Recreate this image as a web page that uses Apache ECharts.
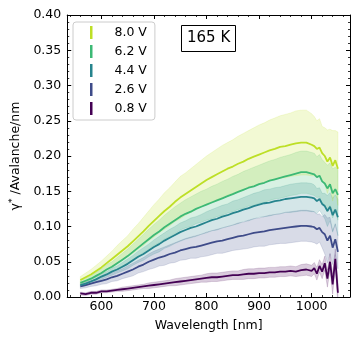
<!DOCTYPE html>
<html>
<head>
<meta charset="utf-8">
<script src="https://cdn.jsdelivr.net/npm/echarts@6/dist/echarts.min.js"></script>
<style>
html,body{margin:0;padding:0;background:#fff}
#chart{width:360px;height:344px}
</style>
</head>
<body>
<div id="chart"></div>
<script>
// wavelength grid (nm)
const wavelength = [560,570,580,590,600,610,620,630,640,650,660,670,680,690,700,710,720,730,740,750,
  760,770,780,790,800,810,820,830,840,850,860,870,880,890,900,910,920,930,940,950,960,970,980,990,1000,
  1005,1010,1015,1020,1025,1030,1035,1040,1045,1050];

const voltages = ['0.8 V','2.6 V','4.4 V','6.2 V','8.0 V'];
const colors = ['#440154','#3e4b89','#26848d','#3cb975','#bddf26'];

// mean gamma* per bias
const mean08 = [0.005,0.004,0.006,0.006,0.008,0.008,0.009,0.010,0.011,0.012,0.013,0.014,0.015,0.016,0.017,0.018,0.019,0.020,0.021,0.022,
  0.023,0.024,0.025,0.026,0.027,0.028,0.028,0.029,0.030,0.031,0.031,0.032,0.033,0.033,0.034,0.034,0.035,0.035,0.036,0.036,0.037,0.036,0.038,0.039,0.037,
  0.041,0.033,0.044,0.036,0.048,0.026,0.050,0.018,0.054,0.006];
const mean26 = [0.015,0.017,0.019,0.021,0.023,0.025,0.028,0.030,0.033,0.036,0.039,0.043,0.046,0.050,0.053,0.056,0.058,0.061,0.063,0.066,
  0.068,0.070,0.071,0.073,0.075,0.077,0.079,0.080,0.082,0.084,0.086,0.087,0.089,0.091,0.092,0.093,0.095,0.096,0.097,0.098,0.099,0.100,0.101,0.101,0.100,
  0.099,0.096,0.098,0.092,0.089,0.080,0.087,0.070,0.082,0.064];
const mean44 = [0.017,0.019,0.022,0.025,0.029,0.032,0.036,0.039,0.043,0.047,0.052,0.057,0.061,0.066,0.071,0.075,0.080,0.084,0.088,0.092,
  0.095,0.098,0.100,0.103,0.106,0.109,0.111,0.114,0.116,0.119,0.121,0.124,0.126,0.129,0.131,0.133,0.134,0.136,0.137,0.139,0.140,0.141,0.142,0.142,0.141,
  0.140,0.136,0.139,0.132,0.129,0.122,0.128,0.116,0.124,0.113];
const mean62 = [0.020,0.023,0.026,0.030,0.034,0.039,0.043,0.048,0.053,0.058,0.064,0.070,0.076,0.082,0.088,0.093,0.099,0.104,0.109,0.114,
  0.118,0.121,0.125,0.128,0.131,0.134,0.137,0.140,0.143,0.146,0.149,0.152,0.155,0.157,0.160,0.162,0.165,0.167,0.169,0.171,0.173,0.175,0.177,0.177,0.175,
  0.174,0.170,0.172,0.164,0.161,0.154,0.160,0.147,0.153,0.145];
const mean80 = [0.024,0.028,0.032,0.037,0.042,0.048,0.054,0.060,0.066,0.072,0.079,0.086,0.093,0.101,0.108,0.115,0.122,0.128,0.135,0.141,
  0.146,0.151,0.156,0.161,0.166,0.170,0.174,0.178,0.182,0.185,0.189,0.192,0.196,0.199,0.202,0.205,0.208,0.210,0.213,0.214,0.216,0.218,0.219,0.219,0.216,
  0.214,0.210,0.212,0.204,0.200,0.192,0.198,0.186,0.194,0.182];

// half width of the shaded band
const err08 = [0.002,0.002,0.002,0.002,0.002,0.002,0.002,0.002,0.003,0.003,0.003,0.003,0.003,0.004,0.004,0.004,0.004,0.004,0.005,0.005,
  0.005,0.005,0.005,0.005,0.006,0.006,0.006,0.006,0.006,0.006,0.006,0.007,0.007,0.007,0.007,0.007,0.007,0.007,0.007,0.007,0.007,0.007,0.008,0.008,0.008,
  0.008,0.009,0.009,0.010,0.010,0.012,0.012,0.014,0.014,0.015];
const err26 = [0.003,0.004,0.004,0.005,0.005,0.006,0.006,0.007,0.007,0.008,0.009,0.009,0.010,0.011,0.012,0.012,0.013,0.013,0.014,0.014,
  0.015,0.015,0.016,0.016,0.017,0.017,0.017,0.018,0.018,0.018,0.019,0.019,0.020,0.020,0.020,0.021,0.021,0.021,0.021,0.022,0.022,0.022,0.022,0.022,0.022,
  0.022,0.021,0.020,0.022,0.028,0.032,0.026,0.024,0.022,0.024];
const err44 = [0.002,0.003,0.003,0.004,0.004,0.004,0.005,0.005,0.006,0.007,0.007,0.008,0.009,0.009,0.010,0.011,0.011,0.012,0.012,0.013,
  0.013,0.014,0.014,0.014,0.015,0.015,0.016,0.016,0.016,0.017,0.017,0.017,0.018,0.018,0.018,0.019,0.019,0.019,0.019,0.019,0.020,0.020,0.020,0.020,0.020,
  0.019,0.018,0.016,0.015,0.018,0.022,0.020,0.024,0.021,0.026];
const err62 = [0.003,0.004,0.004,0.005,0.006,0.007,0.007,0.008,0.009,0.010,0.011,0.012,0.013,0.014,0.015,0.016,0.017,0.018,0.019,0.019,
  0.020,0.021,0.021,0.022,0.022,0.023,0.023,0.024,0.024,0.025,0.025,0.026,0.026,0.027,0.027,0.028,0.028,0.028,0.029,0.029,0.029,0.030,0.030,0.030,0.030,
  0.030,0.029,0.030,0.031,0.030,0.033,0.030,0.035,0.031,0.036];
const err80 = [0.005,0.006,0.007,0.008,0.009,0.010,0.011,0.013,0.014,0.015,0.017,0.018,0.020,0.021,0.023,0.024,0.026,0.027,0.028,0.030,
  0.030,0.031,0.032,0.033,0.034,0.035,0.036,0.037,0.037,0.038,0.039,0.040,0.040,0.041,0.042,0.042,0.043,0.044,0.044,0.045,0.045,0.046,0.046,0.046,0.044,
  0.042,0.040,0.041,0.038,0.040,0.045,0.040,0.050,0.042,0.052];

const means = [mean08, mean26, mean44, mean62, mean80];
const errs = [err08, err26, err44, err62, err80];

const font = 'DejaVu Sans';

// band = polygon through upper edge then back along lower edge
const bandSeries = voltages.map((v, i) => {
  const rows = wavelength.map((w, k) => [w, means[i][k] - errs[i][k], means[i][k] + errs[i][k]]);
  return {
    type: 'custom', name: 'band ' + v, silent: true, z: 1, clip: true,
    data: rows,
    encode: {x: 0, y: [1, 2]},
    renderItem: (params, api) => {
      if (params.dataIndex !== 0) return;
      const pts = rows.map(r => api.coord([r[0], r[2]]));
      for (let k = rows.length - 1; k >= 0; k--) pts.push(api.coord([rows[k][0], rows[k][1]]));
      return {
        type: 'polygon', shape: {points: pts},
        style: {fill: colors[i], stroke: colors[i], lineWidth: 0.8, opacity: 0.2}
      };
    }
  };
});

const lineSeries = voltages.map((v, i) => ({
  type: 'line', name: v, symbol: 'none', z: 3,
  data: wavelength.map((w, k) => [w, means[i][k]]),
  lineStyle: {color: colors[i], width: 1.8}, itemStyle: {color: colors[i]}
}));

function axisBase() {
  return {
    axisLine: {onZero: false, lineStyle: {color: '#000', width: 1}},
    axisTick: {inside: true, length: 4, lineStyle: {color: '#000', width: 1}},
    minorTick: {show: true, splitNumber: 5, length: 2, lineStyle: {color: '#000', width: 0.8}},
    splitLine: {show: false}
  };
}

const chart = echarts.init(document.getElementById('chart'));
chart.setOption({
  animation: false,
  grid: {left: 67, right: 10, top: 15, bottom: 47},
  title: {
    text: '165 K', left: 181, top: 25, padding: [6, 6, 6, 6],
    borderColor: '#000', borderWidth: 1,
    textStyle: {fontFamily: font, fontSize: 15, fontWeight: 'normal', color: '#000'}
  },
  legend: {
    data: ['8.0 V', '6.2 V', '4.4 V', '2.6 V', '0.8 V'],
    orient: 'vertical', left: 73, top: 22, icon: 'rect',
    itemWidth: 2.5, itemHeight: 13, itemGap: 6,
    padding: [4, 8, 5, 17],
    backgroundColor: 'rgba(255,255,255,0.8)', borderColor: '#cccccc', borderWidth: 1, borderRadius: 3,
    textStyle: {fontFamily: font, fontSize: 12.5, color: '#000', padding: [0, 0, 0, 17]}
  },
  xAxis: [
    Object.assign(axisBase(), {
      type: 'value', min: 535, max: 1073, position: 'bottom',
      name: 'Wavelength [nm]', nameLocation: 'middle', nameGap: 22,
      nameTextStyle: {fontFamily: font, fontSize: 12.5, color: '#000'},
      axisLabel: {margin: 3, fontFamily: font, fontSize: 12.5, color: '#000',
        formatter: v => (v % 100 === 0 ? String(v) : '')}
    }),
    Object.assign(axisBase(), {
      type: 'value', min: 535, max: 1073, position: 'top', axisLabel: {show: false}
    })
  ],
  yAxis: [
    Object.assign(axisBase(), {
      type: 'value', min: 0, max: 0.4, interval: 0.05, position: 'left',
      name: '{a|γ}{s|*}{a| /Avalanche/nm}', nameLocation: 'middle', nameGap: 33,
      nameTextStyle: {fontFamily: font, fontSize: 12.5, color: '#000',
        rich: {a: {fontFamily: font, fontSize: 12.5, color: '#000'},
               s: {fontFamily: font, fontSize: 9, color: '#000', padding: [0, 0, 7, 0]}}},
      axisLabel: {margin: 6, fontFamily: font, fontSize: 12.5, color: '#000',
        formatter: v => v.toFixed(2)}
    }),
    Object.assign(axisBase(), {
      type: 'value', min: 0, max: 0.4, interval: 0.05, position: 'right', axisLabel: {show: false}
    })
  ],
  series: bandSeries.concat(lineSeries)
});
</script>
</body>
</html>
